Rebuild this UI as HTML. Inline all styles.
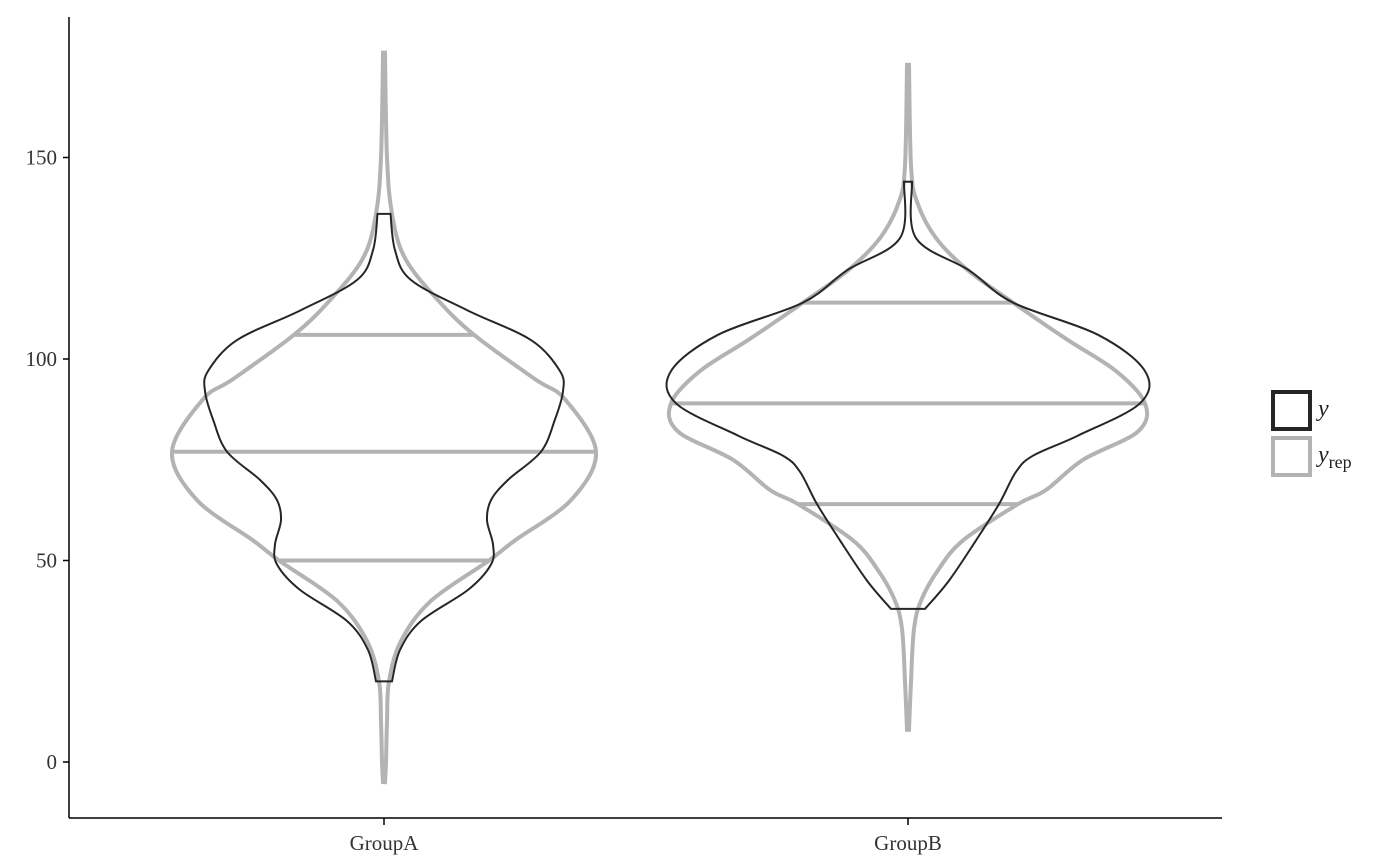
<!DOCTYPE html>
<html><head><meta charset="utf-8">
<style>
html,body{margin:0;padding:0;background:#fff;}
svg{display:block;font-family:"Liberation Serif",serif;}
</style></head>
<body>
<svg id="chart" width="1400" height="866" viewBox="0 0 1400 866">
  <g id="plot"></g>
  <line x1="69" y1="17" x2="69" y2="818" stroke="#000" stroke-width="1.5"/>
  <line x1="69" y1="818" x2="1222" y2="818" stroke="#000" stroke-width="1.5"/>
  <g id="yticks"></g>
  <g id="xticks"></g>
  <g>
    <rect x="1273" y="392" width="37" height="37" fill="none" stroke="#262626" stroke-width="4"/>
    <text x="1318" y="416" font-size="24" font-style="italic" fill="#222">y</text>
    <rect x="1273" y="438" width="37" height="37" fill="none" stroke="#b3b3b3" stroke-width="4"/>
    <text x="1318" y="462" font-size="24" fill="#222"><tspan font-style="italic">y</tspan><tspan font-size="18" dy="6">rep</tspan></text>
  </g>
</svg>
<script>
const categories = ["GroupA", "GroupB"];
const yTicks = [0, 50, 100, 150];
// density half-widths (px) at y values, per group
const repA_y = [176,150,136,125,114.6,106,95,90,77,65,55,50,40,30,20,10,0,-5];
const repA_w = [1,3,8,21,54,90,151,181,212,187,131,105,47,17,5,3,2,1];
const obsA_y = [136,127,119.6,112,104.7,97,92,85,77,70,65,60,54,49,42.7,35,27.8,20];
const obsA_w = [6.5,11,27,84,147,176,179,171,157,124,107,103,109,107,84,37,16,8];
const repB_y = [173,148,139,130,122,114,105,97,89,82,75,67.5,64,55,47.6,40,33,20,8];
const repB_w = [1,3,9,28,60,105,158,208,237,230,175,138,110,55,30,13,6,3,1];
const obsB_y = [144,130,122,114,106,97,89,81,76,72,64,55,45,38];
const obsB_w = [4,8,61,105,190,237,232,170,125,108,91,68,41,17];
const quantRepA = [106, 77, 50];
const quantRepB = [114, 89, 64];

const NS = "http://www.w3.org/2000/svg";
const yScale = v => 762 - 4.03 * v;
const xCenter = i => 384 + 524 * i;

function interp(ys, ws, v){
  for(let i=0;i<ys.length-1;i++){
    const a=ys[i], b=ys[i+1];
    if((v<=a&&v>=b)){const t=(a-v)/(a-b);return ws[i]+t*(ws[i+1]-ws[i]);}
  }
  return 0;
}
function cr(pts){
  let d="";
  for(let i=0;i<pts.length-1;i++){
    const p0=pts[Math.max(i-1,0)],p1=pts[i],p2=pts[i+1],p3=pts[Math.min(i+2,pts.length-1)];
    const c1=[p1[0]+(p2[0]-p0[0])/6,p1[1]+(p2[1]-p0[1])/6];
    const c2=[p2[0]-(p3[0]-p1[0])/6,p2[1]-(p3[1]-p1[1])/6];
    d+=` C${c1[0].toFixed(1)},${c1[1].toFixed(1)} ${c2[0].toFixed(1)},${c2[1].toFixed(1)} ${p2[0].toFixed(1)},${p2[1].toFixed(1)}`;
  }
  return d;
}
function violin(ys, ws, cx){
  const left = ys.map((v,i)=>[cx-ws[i], yScale(v)]);
  const right = ys.map((v,i)=>[cx+ws[i], yScale(v)]).reverse();
  return `M${left[0][0]},${left[0][1]}`+cr(left)+` L${right[0][0]},${right[0][1]}`+cr(right)+" Z";
}
const plot=document.getElementById("plot");
function addPath(d,stroke,sw,name){
  const p=document.createElementNS(NS,"path");
  p.setAttribute("d",d);p.setAttribute("fill","none");p.setAttribute("stroke",stroke);p.setAttribute("stroke-width",sw);
  
  
  plot.appendChild(p);
}
const reps=[[repA_y,repA_w,quantRepA],[repB_y,repB_w,quantRepB]];
const obs=[[obsA_y,obsA_w],[obsB_y,obsB_w]];
reps.forEach((r,i)=>{
  const cx=xCenter(i);
  addPath(violin(r[0],r[1],cx),"#b3b3b3",4,"violin-yrep-"+categories[i]);
  r[2].forEach(q=>{
    const w=interp(r[0],r[1],q);
    addPath(`M${cx-w},${yScale(q)} L${cx+w},${yScale(q)}`,"#b3b3b3",4,"quantile-line");
  });
});
obs.forEach((o,i)=>{
  addPath(violin(o[0],o[1],xCenter(i)),"#262626",2,"violin-y-"+categories[i]);
});
const yt=document.getElementById("yticks");
yTicks.forEach(v=>{
  const l=document.createElementNS(NS,"line");
  l.setAttribute("x1",63);l.setAttribute("x2",69);l.setAttribute("y1",yScale(v));l.setAttribute("y2",yScale(v));l.setAttribute("stroke","#000");l.setAttribute("stroke-width",1.5);
  
  
  yt.appendChild(l);
  const t=document.createElementNS(NS,"text");
  t.setAttribute("x",57);t.setAttribute("y",yScale(v)+7);t.setAttribute("text-anchor","end");t.setAttribute("font-size","21");t.setAttribute("fill","#333");
  t.textContent=v;
  
  
  yt.appendChild(t);
});
const xt=document.getElementById("xticks");
categories.forEach((c,i)=>{
  const l=document.createElementNS(NS,"line");
  l.setAttribute("x1",xCenter(i));l.setAttribute("x2",xCenter(i));l.setAttribute("y1",818);l.setAttribute("y2",825);l.setAttribute("stroke","#000");l.setAttribute("stroke-width",1.5);
  
  
  xt.appendChild(l);
  const t=document.createElementNS(NS,"text");
  t.setAttribute("x",xCenter(i));t.setAttribute("y",850);t.setAttribute("text-anchor","middle");t.setAttribute("font-size","21");t.setAttribute("fill","#333");
  t.textContent=c;
  
  
  xt.appendChild(t);
});
</script>
</body></html>
